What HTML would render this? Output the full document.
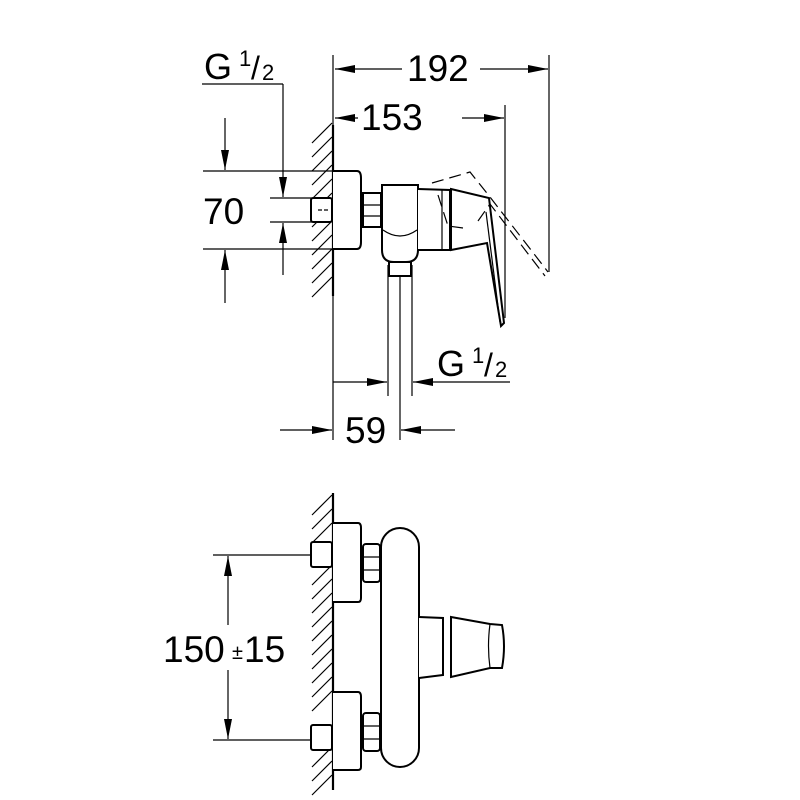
<!DOCTYPE html>
<html><head><meta charset="utf-8"><style>
html,body{margin:0;padding:0;background:#fff;}
svg{display:block}
text{font-family:"Liberation Sans",Arial,sans-serif;fill:#000}
</style></head><body>
<svg width="800" height="800" viewBox="0 0 800 800" xmlns="http://www.w3.org/2000/svg">
<defs>
<marker id="a" viewBox="0 0 20 8" refX="20" refY="4" markerWidth="20" markerHeight="8" markerUnits="userSpaceOnUse" orient="auto"><path d="M0,0 L20,4 L0,8 Z" fill="#000"/></marker>
</defs>
<g stroke="#000" fill="none" stroke-width="1.2">
<line x1="333" y1="55" x2="333" y2="440"/>
<line x1="549" y1="55" x2="549" y2="272"/>
<line x1="505" y1="105" x2="505" y2="318"/>
<line x1="402" y1="69" x2="335" y2="69" marker-end="url(#a)"/>
<line x1="480" y1="69" x2="548" y2="69" marker-end="url(#a)"/>
<line x1="358" y1="118" x2="335" y2="118" marker-end="url(#a)"/>
<line x1="462" y1="118" x2="504" y2="118" marker-end="url(#a)"/>
<line x1="202" y1="84" x2="283" y2="84"/>
<line x1="283" y1="84" x2="283" y2="197" marker-end="url(#a)"/>
<line x1="283" y1="275" x2="283" y2="223" marker-end="url(#a)"/>
<line x1="203" y1="171" x2="333" y2="171"/>
<line x1="203" y1="249" x2="333" y2="249"/>
<line x1="270" y1="198" x2="312" y2="198"/>
<line x1="270" y1="222" x2="312" y2="222"/>
<line x1="225" y1="118" x2="225" y2="170" marker-end="url(#a)"/>
<line x1="225" y1="303" x2="225" y2="250" marker-end="url(#a)"/>
<line x1="388" y1="265" x2="388" y2="396"/>
<line x1="400" y1="265" x2="400" y2="440"/>
<line x1="412" y1="265" x2="412" y2="396"/>
<line x1="333" y1="382" x2="387" y2="382" marker-end="url(#a)"/>
<line x1="510" y1="382" x2="413" y2="382" marker-end="url(#a)"/>
<line x1="280" y1="430" x2="332" y2="430" marker-end="url(#a)"/>
<line x1="455" y1="430" x2="401" y2="430" marker-end="url(#a)"/>
<line x1="333" y1="125" x2="333" y2="296" stroke-width="2.2"/>
<path d="M312,143 L332,123 M312,157 L332,137 M312,171 L332,151 M312,185 L332,165 M312,199 L332,179 M312,213 L332,193 M312,227 L332,207 M312,241 L332,221 M312,255 L332,235 M312,269 L332,249 M312,283 L332,263 M312,297 L332,277"/>
<g stroke-width="2">
<rect x="311" y="198" width="21" height="24" rx="2" fill="#fff"/>
<path d="M333,171 L357,171 Q361,171 361,178 L361,242 Q361,249 357,249 L333,249" fill="#fff"/>
<rect x="363" y="193" width="18" height="34" fill="#fff"/>
<path d="M382,185 L418,185 L418,250 Q418,262 406,262 L394,262 Q382,262 382,250 Z" fill="#fff"/>
<rect x="389" y="262" width="22" height="14" fill="#fff"/>
<path d="M418,189 L450,190 L450,250 L418,250" fill="#fff"/>
<path d="M451,189 L489,198 L504,323 L501,326 L487,243 L451,250 Z" fill="#fff"/>
</g>
<line x1="363" y1="205" x2="381" y2="205"/>
<line x1="363" y1="216" x2="381" y2="216"/>
<path d="M383,230 Q400,242 417,230"/>
<line x1="442" y1="190" x2="442" y2="250"/>
<line x1="486" y1="212" x2="500" y2="322"/>
<line x1="318" y1="210" x2="330" y2="210" stroke-dasharray="4,2"/>
<path d="M432,183 L470,172 L490,197 L548,272 M478,221 L490,204 L545,276 M438,195 L448,226 L463,228" stroke-dasharray="12,6"/>
<line x1="333" y1="493" x2="333" y2="790" stroke-width="2.2"/>
<path d="M312,515 L332,495 M312,529 L332,509 M312,543 L332,523 M312,585 L332,565 M312,599 L332,579 M312,613 L332,593 M312,627 L332,607 M312,641 L332,621 M312,655 L332,635 M312,669 L332,649 M312,683 L332,663 M312,697 L332,677 M312,711 L332,691 M312,767 L332,747 M312,781 L332,761 M312,795 L332,775"/>
<line x1="213" y1="555" x2="312" y2="555"/>
<line x1="213" y1="740" x2="312" y2="740"/>
<line x1="228" y1="625" x2="228" y2="556" marker-end="url(#a)"/>
<line x1="228" y1="670" x2="228" y2="739" marker-end="url(#a)"/>
<g stroke-width="2">
<rect x="311" y="542" width="21" height="25" rx="2" fill="#fff"/>
<rect x="311" y="725" width="21" height="25" rx="2" fill="#fff"/>
<path d="M333,523 L358,523 Q361,523 361,528 L361,598 Q361,602 358,602 L333,602" fill="#fff"/>
<path d="M333,692 L358,692 Q361,692 361,697 L361,767 Q361,770 358,770 L333,770" fill="#fff"/>
<rect x="363" y="544" width="17" height="38" rx="3" fill="#fff"/>
<rect x="363" y="713" width="17" height="38" rx="3" fill="#fff"/>
<rect x="381" y="528" width="38" height="239" rx="19" fill="#fff"/>
<path d="M419,617 L443,618 L443,675 L419,678" fill="#fff"/>
<path d="M451,617 L490,624 L502,625 Q506,646 502,668 L490,668 L451,677 Z" fill="#fff"/>
</g>
<line x1="363" y1="557" x2="380" y2="557"/>
<line x1="363" y1="570" x2="380" y2="570"/>
<line x1="363" y1="726" x2="380" y2="726"/>
<line x1="363" y1="739" x2="380" y2="739"/>
<path d="M490,624 Q487,646 490,668"/>
</g>
<text x="204" y="79" font-size="36">G</text>
<text x="239" y="66" font-size="22">1</text>
<text x="251" y="79" font-size="32">/</text>
<text x="262" y="80" font-size="22">2</text>
<text x="407" y="81" font-size="37">192</text>
<text x="361" y="130" font-size="37">153</text>
<text x="203" y="224" font-size="37">70</text>
<text x="437" y="376" font-size="36">G</text>
<text x="472" y="363" font-size="22">1</text>
<text x="484" y="376" font-size="32">/</text>
<text x="495" y="377" font-size="22">2</text>
<text x="345" y="443" font-size="37">59</text>
<text x="163" y="662" font-size="37">150</text>
<text x="232" y="659" font-size="20">±</text>
<text x="244" y="662" font-size="37">15</text>
</svg>
</body></html>
